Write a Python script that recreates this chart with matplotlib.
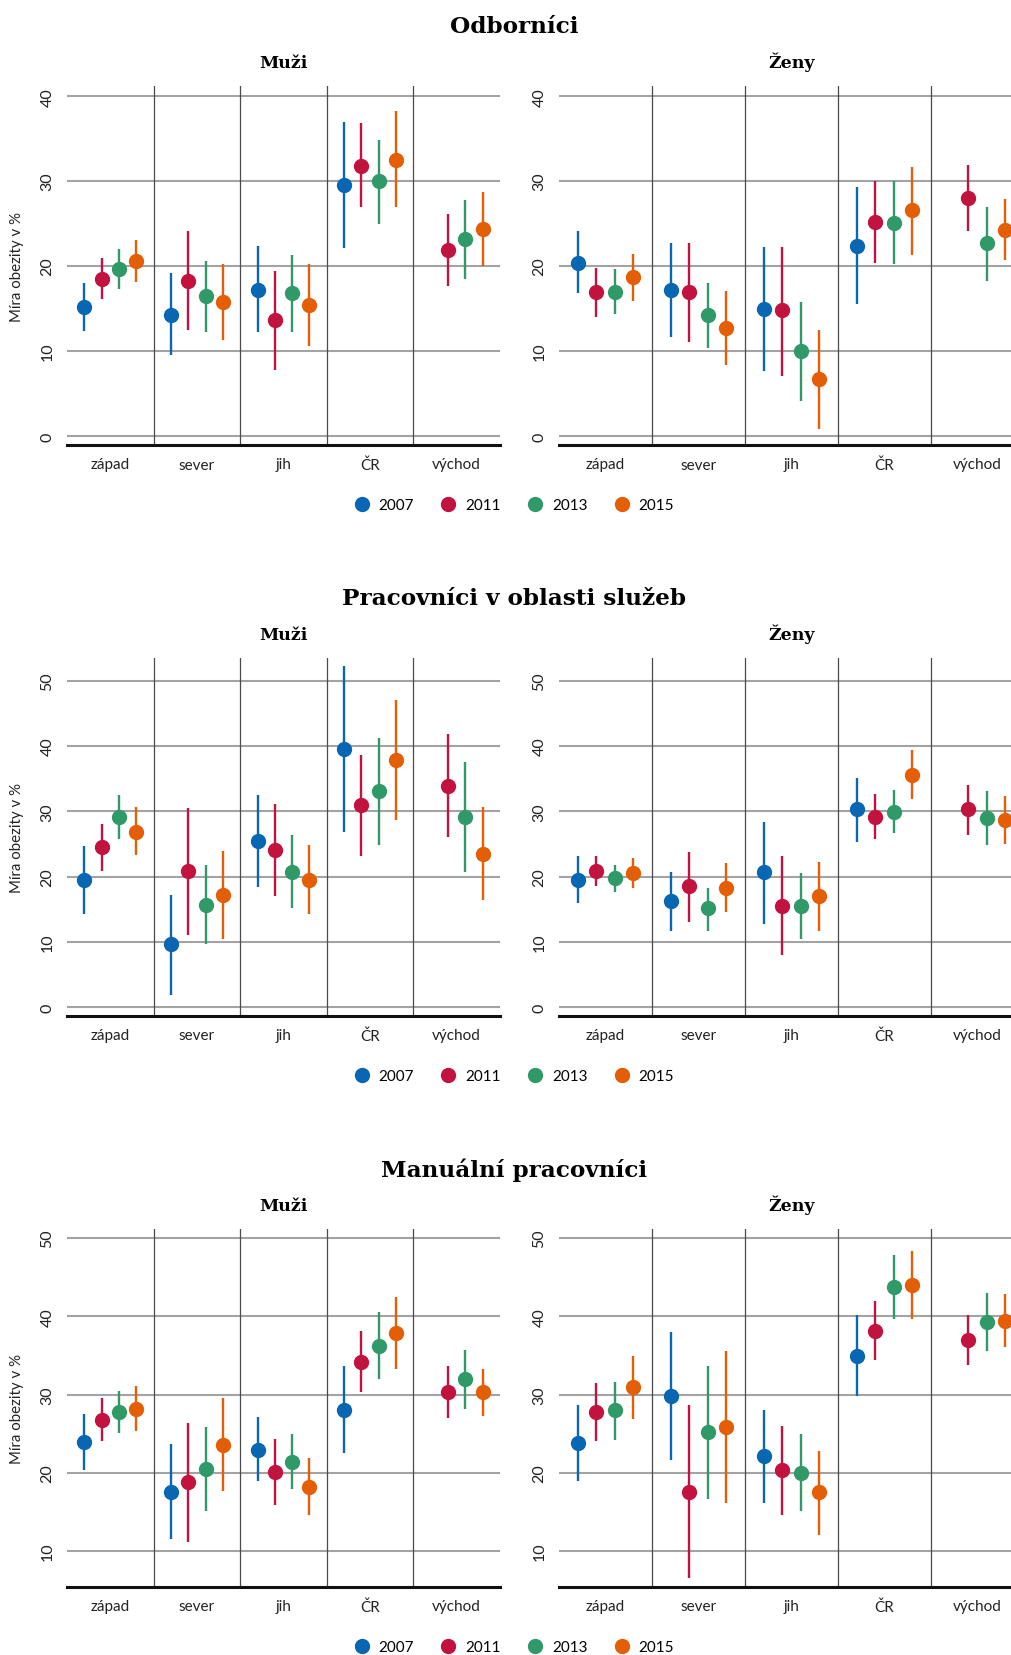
import numpy as np
import matplotlib
matplotlib.use("Agg")
import matplotlib.pyplot as plt
from matplotlib.lines import Line2D

nan = np.nan

regions = ["západ", "sever", "jih", "ČR", "východ"]
years = ["2007", "2011", "2013", "2015"]
colors = ["#0866b2", "#c2133f", "#2f9a68", "#e35e05"]

# rows = years (2007, 2011, 2013, 2015), columns = regions
odb_muzi_mid = [[15.2, 14.3, 17.2, 29.5, nan],
                [18.5, 18.3, 13.6, 31.8, 21.9],
                [19.7, 16.5, 16.8, 30.0, 23.2],
                [20.6, 15.8, 15.4, 32.5, 24.4]]
odb_muzi_lo = [[12.4, 9.5, 12.2, 22.1, nan],
               [16.1, 12.5, 7.8, 26.9, 17.6],
               [17.3, 12.2, 12.3, 25.0, 18.5],
               [18.1, 11.3, 10.6, 26.9, 20.0]]
odb_muzi_hi = [[18.0, 19.2, 22.4, 37.0, nan],
               [20.9, 24.1, 19.4, 36.8, 26.1],
               [22.0, 20.6, 21.3, 34.9, 27.8],
               [23.1, 20.3, 20.2, 38.2, 28.7]]

odb_zeny_mid = [[20.4, 17.2, 15.0, 22.4, nan],
                [16.9, 16.9, 14.8, 25.2, 28.0],
                [17.0, 14.2, 10.0, 25.1, 22.7],
                [18.7, 12.7, 6.7, 26.6, 24.3]]
odb_zeny_lo = [[16.8, 11.7, 7.7, 15.5, nan],
               [14.0, 11.1, 7.1, 20.4, 24.1],
               [14.4, 10.3, 4.1, 20.3, 18.3],
               [15.9, 8.3, 0.8, 21.3, 20.7]]
odb_zeny_hi = [[24.1, 22.7, 22.2, 29.3, nan],
               [19.8, 22.7, 22.2, 30.0, 31.9],
               [19.6, 18.0, 15.8, 30.0, 26.9],
               [21.4, 17.1, 12.5, 31.7, 27.9]]

sluz_muzi_mid = [[19.5, 9.6, 25.4, 39.5, nan],
                 [24.6, 20.8, 24.0, 31.0, 33.9],
                 [29.2, 15.7, 20.7, 33.1, 29.1],
                 [26.9, 17.2, 19.5, 37.8, 23.5]]
sluz_muzi_lo = [[14.3, 1.9, 18.4, 26.9, nan],
                [20.9, 11.0, 17.0, 23.2, 26.1],
                [25.7, 9.6, 15.1, 24.9, 20.7],
                [23.3, 10.4, 14.2, 28.6, 16.4]]
sluz_muzi_hi = [[24.7, 17.2, 32.5, 52.2, nan],
                [28.1, 30.5, 31.1, 38.7, 41.8],
                [32.5, 21.7, 26.3, 41.2, 37.5],
                [30.6, 23.9, 24.9, 47.0, 30.7]]

sluz_zeny_mid = [[19.5, 16.2, 20.7, 30.3, nan],
                 [20.8, 18.5, 15.5, 29.2, 30.4],
                 [19.7, 15.1, 15.5, 29.9, 28.9],
                 [20.5, 18.2, 17.0, 35.5, 28.7]]
sluz_zeny_lo = [[16.0, 11.7, 12.7, 25.3, nan],
                [18.6, 13.1, 7.9, 25.7, 26.4],
                [17.7, 11.7, 10.5, 26.6, 24.8],
                [18.3, 14.5, 11.7, 31.9, 25.0]]
sluz_zeny_hi = [[23.1, 20.7, 28.4, 35.1, nan],
                [23.1, 23.7, 23.2, 32.6, 34.0],
                [21.8, 18.3, 20.6, 33.2, 33.1],
                [22.9, 22.0, 22.3, 39.4, 32.4]]

man_muzi_mid = [[23.9, 17.6, 22.9, 28.0, nan],
                [26.7, 18.8, 20.1, 34.2, 30.3],
                [27.8, 20.5, 21.4, 36.2, 32.0],
                [28.2, 23.6, 18.2, 37.8, 30.3]]
man_muzi_lo = [[20.3, 11.5, 19.0, 22.5, nan],
               [24.1, 11.1, 15.9, 30.3, 27.0],
               [25.1, 15.1, 17.9, 32.0, 28.2],
               [25.3, 17.7, 14.6, 33.2, 27.2]]
man_muzi_hi = [[27.5, 23.7, 27.1, 33.7, nan],
               [29.5, 26.4, 24.3, 38.1, 33.7],
               [30.5, 25.8, 24.9, 40.5, 35.7],
               [31.1, 29.5, 21.9, 42.5, 33.3]]

man_zeny_mid = [[23.8, 29.8, 22.1, 34.9, nan],
                [27.8, 17.6, 20.3, 38.1, 37.0],
                [28.0, 25.2, 20.0, 43.8, 39.3],
                [30.9, 25.9, 17.5, 44.0, 39.4]]
man_zeny_lo = [[18.9, 21.6, 16.1, 29.8, nan],
               [24.0, 6.5, 14.6, 34.4, 33.8],
               [24.2, 16.7, 15.1, 39.7, 35.5],
               [26.9, 16.1, 12.1, 39.6, 36.1]]
man_zeny_hi = [[28.6, 38.0, 28.0, 40.2, nan],
               [31.5, 28.6, 26.0, 41.9, 40.1],
               [31.6, 33.7, 24.9, 47.8, 43.0],
               [34.9, 35.6, 22.8, 48.4, 42.8]]

W, H = 1012, 1656
fig = plt.figure(figsize=(W / 100, H / 100), dpi=100)

sans = ["Lato", "DejaVu Sans"]
serif = ["DejaVu Serif"]

blocks = [
    ("Odborníci", (87, 446), (-1.06, 41.2), [0, 10, 20, 30, 40],
     (odb_muzi_mid, odb_muzi_lo, odb_muzi_hi), (odb_zeny_mid, odb_zeny_lo, odb_zeny_hi)),
    ("Pracovníci v oblasti služeb", (659, 1017), (-1.38, 53.5), [0, 10, 20, 30, 40, 50],
     (sluz_muzi_mid, sluz_muzi_lo, sluz_muzi_hi), (sluz_zeny_mid, sluz_zeny_lo, sluz_zeny_hi)),
    ("Manuální pracovníci", (1230, 1588), (5.4, 51.15), [10, 20, 30, 40, 50],
     (man_muzi_mid, man_muzi_lo, man_muzi_hi), (man_zeny_mid, man_zeny_lo, man_zeny_hi)),
]

xcols = [(67, 500, "Muži"), (559, 1024, "Ženy")]
offsets = [-0.3, -0.1, 0.1, 0.3]
x = np.arange(len(regions))

for title, (top, bot), ylim, yticks, d_m, d_z in blocks:
    fig.text(514 / W, 1 - (top - 60) / H, title, ha="center", va="center",
             family=serif, fontweight="bold", fontsize=16.7)
    for (left, right, sub), data in zip(xcols, [d_m, d_z]):
        ax = fig.add_axes([left / W, 1 - bot / H, (right - left) / W, (bot - top) / H])
        mid, lo, hi = [np.array(a) for a in data]
        for i in range(4):
            ax.errorbar(x + offsets[i], mid[i], yerr=[mid[i] - lo[i], hi[i] - mid[i]],
                        fmt="o", ms=10, color=colors[i], elinewidth=1.7, capsize=0, zorder=3)
        ax.set_xlim(-0.5, 4.5)
        ax.set_ylim(*ylim)
        ax.set_yticks(yticks)
        for t in yticks:
            ax.axhline(t, color="#a3a3a3", lw=1.5, zorder=1)
        for b in [0.5, 1.5, 2.5, 3.5]:
            ax.axvline(b, color="#4a4a4a", lw=0.9, zorder=1)
        for s in ["top", "right", "left"]:
            ax.spines[s].set_visible(False)
        ax.spines["bottom"].set_linewidth(2.2)
        ax.spines["bottom"].set_color("#111111")
        ax.set_xticks(x)
        ax.set_xticklabels(regions, family=sans, fontsize=11, color="#222222")
        ax.tick_params(axis="x", length=0, pad=9)
        ax.tick_params(axis="y", length=0, pad=9, labelsize=11.5, labelcolor="#222222")
        for lab in ax.get_yticklabels():
            lab.set_rotation(90)
            lab.set_va("center")
            lab.set_family(sans)
        ax.set_title(sub, family=serif, fontweight="bold", fontsize=12.5, pad=14)
        if left < 100:
            fig.text(17 / W, 1 - (top + bot) / 2 / H, "Míra obezity v %", rotation=90,
                     ha="center", va="center", family=sans, fontsize=10.8, color="#222222")
    handles = [Line2D([], [], ls="none", marker="o", ms=10, color=c) for c in colors]
    fig.legend(handles, years, loc="center", bbox_to_anchor=(514 / W, 1 - (bot + 60) / H),
               ncol=4, frameon=False, handlelength=1.0, handletextpad=0.6,
               columnspacing=1.75, prop={"family": sans, "size": 11})

fig.savefig("out.png", dpi=100)
